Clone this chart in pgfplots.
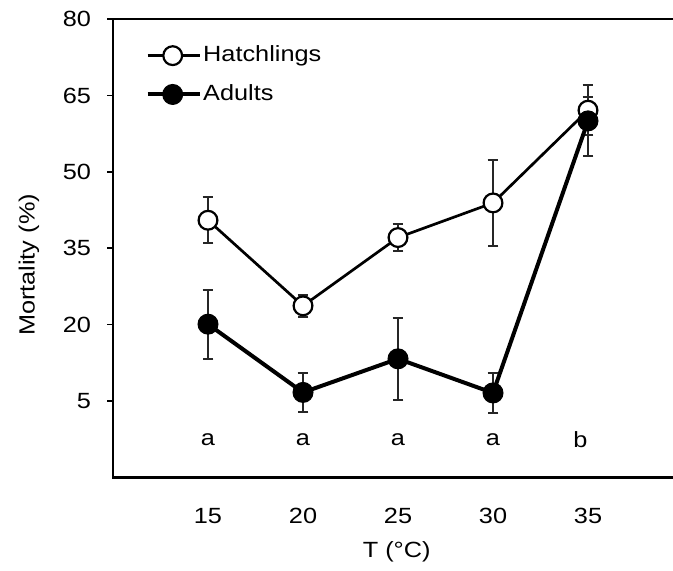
\documentclass[border=0pt]{standalone}
\usepackage{pgfplots}
\pgfplotsset{compat=1.18}
\usepackage{fontspec}
\setmainfont{Liberation Sans}[FakeStretch=1.15]

\begin{document}
\begin{tikzpicture}[font=\fontsize{11}{13.2}\selectfont]
\useasboundingbox (0,0) rectangle (336.5pt,285pt);
\begin{axis}[
  at={(56.5pt,46.25pt)}, anchor=south west,
  scale only axis, width=285pt, height=229.25pt,
  xmin=10, xmax=40, ymin=-10, ymax=80,
  axis line style={line width=1.3pt},
  xtick={15,20,25,30,35},
  ytick={5,20,35,50,65,80},
  xtick pos=bottom, ytick pos=left,
  x tick style={draw=none},
  y tick style={line width=0.8pt, black},
  tick align=outside,
  major tick length=3pt,
  /pgf/number format/assume math mode=true,
  xticklabel style={anchor=center, yshift=-16.25pt},
  yticklabel style={xshift=-4.5pt},
  xlabel={T (°C)},
  ylabel={Mortality (\%)},
  xlabel style={at={(axis description cs:0.4977,-0.1618)}, anchor=center},
  ylabel style={at={(axis description cs:-0.1474,0.4635)}, anchor=center},
  clip=false,
  legend style={draw=none, fill=none, inner sep=0pt, at={(axis cs:11.7,69.0)}, anchor=west,
    nodes={inner sep=0.75pt, text height=7.9pt, text depth=2.3pt}, row sep=7.7pt},
  legend cell align=left,
  legend image code/.code={\draw[mark repeat=2,mark phase=2,#1] plot coordinates {(0pt,0pt) (12.5pt,0pt) (26pt,0pt)};},
]
\addplot+[black, line width=1.35pt, mark=*, mark size=4.7pt,
  mark options={fill=white, draw=black, line width=1.1pt, solid},
  error bars/.cd, y dir=both, y explicit,
  error bar style={line width=1pt, black!85},
  error mark options={rotate=90, mark size=2.7pt, line width=1pt, black!85}]
  coordinates {
  (15,40.5) +- (0,4.5)
  (20,23.7) +- (0,2.2)
  (25,37.1) +- (0,2.6)
  (30,43.9) +- (0,8.5)
  (35,62.1) +- (0,4.9)
  };
\addlegendentry{Hatchlings}
\addplot+[black, line width=2pt, mark=*, mark size=5pt,
  mark options={fill=black, draw=black, line width=0.5pt, solid},
  error bars/.cd, y dir=both, y explicit,
  error bar style={line width=1pt, black!85},
  error mark options={rotate=90, mark size=2.7pt, line width=1pt, black!85}]
  coordinates {
  (15,20.1) +- (0,6.8)
  (20,6.7) +- (0,3.8)
  (25,13.3) +- (0,8.0)
  (30,6.6) +- (0,3.9)
  (35,60.0) += (0,4.7) -= (0,6.9)
  };
\addlegendentry{Adults}
\node at (axis cs:15,-2.6) {a};
\node at (axis cs:20,-2.6) {a};
\node at (axis cs:25,-2.6) {a};
\node at (axis cs:30,-2.6) {a};
\node at (axis cs:34.6,-2.6) {b};
\end{axis}
\end{tikzpicture}
\end{document}
